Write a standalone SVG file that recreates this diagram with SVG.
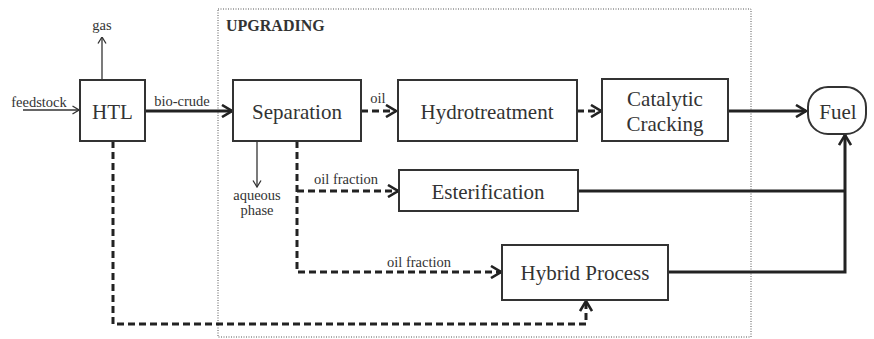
<svg xmlns="http://www.w3.org/2000/svg" width="874" height="339" viewBox="0 0 874 339" font-family="Liberation Serif, Times New Roman, serif">
<defs>
<style>
text{fill:#333;font-family:'Liberation Serif','Times New Roman',serif}
.box{fill:#fff;stroke:#333;stroke-width:2}
.nodeText{text-anchor:middle;font-size:21px}
.edgeText{text-anchor:middle;font-size:14.5px}
.thick{fill:none;stroke:#222;stroke-width:3}
.dash{fill:none;stroke:#222;stroke-width:3;stroke-dasharray:7 4}
.thin{fill:none;stroke:#333;stroke-width:1.3}
</style>
<marker id="ah" markerUnits="userSpaceOnUse" viewBox="0 0 12 14" markerWidth="12" markerHeight="14" refX="11" refY="7" orient="auto">
<path d="M1,1 L11,7 L1,13" fill="none" stroke="#222" stroke-width="2.6"/>
</marker>
<marker id="ahs" markerUnits="userSpaceOnUse" viewBox="0 0 8 10" markerWidth="8" markerHeight="10" refX="7.5" refY="5" orient="auto">
<path d="M1,1 L7.5,5 L1,9" fill="none" stroke="#333" stroke-width="1.3"/>
</marker>
</defs>
<rect width="874" height="339" fill="#fff"/>
<g id="upgrading">
<rect x="218" y="9" width="533" height="328" fill="none" stroke="#555" stroke-width="1" stroke-dasharray="1 1.5"/>
<text x="226" y="31" font-size="16" font-weight="bold">UPGRADING</text>
</g>
<g id="connectors">
<path class="thin" d="M102,80 V37" marker-end="url(#ahs)"/>
<path class="thin" d="M23,110 H79" marker-end="url(#ahs)"/>
<path class="thin" d="M257,141 V187" marker-end="url(#ahs)"/>
<path class="thick" d="M145,111 H232" marker-end="url(#ah)"/>
<path class="dash" d="M361,111 H396" marker-end="url(#ah)"/>
<path class="dash" d="M577,111 H601" marker-end="url(#ah)"/>
<path class="thick" d="M728,111 H806" marker-end="url(#ah)"/>
<path class="thick" d="M578,191 H845"/>
<path class="thick" d="M668,272 H845 V135" marker-end="url(#ah)"/>
<path class="dash" d="M297,141 V272 H501" marker-end="url(#ah)"/>
<path class="dash" d="M297,191 H398" marker-end="url(#ah)"/>
<path class="dash" d="M113,141 V324 H586 V301" marker-end="url(#ah)"/>
</g>
<g id="labels">
<text class="edgeText" x="102" y="30">gas</text>
<text class="edgeText" x="39" y="107">feedstock</text>
<text class="edgeText" x="182" y="106">bio-crude</text>
<text class="edgeText" x="378" y="103">oil</text>
<text class="edgeText" x="257" y="200" font-size="14">aqueous</text>
<text class="edgeText" x="257" y="215" font-size="14">phase</text>
<text class="edgeText" x="346" y="184">oil fraction</text>
<text class="edgeText" x="419" y="267">oil fraction</text>
</g>
<g id="htl">
<rect class="box" x="80" y="80" width="65" height="61"/>
<text class="nodeText" x="112.5" y="119">HTL</text>
</g>
<g id="separation">
<rect class="box" x="233" y="80" width="128" height="61"/>
<text class="nodeText" x="297" y="119">Separation</text>
</g>
<g id="hydrotreatment">
<rect class="box" x="398" y="80" width="179" height="61"/>
<text class="nodeText" x="487" y="119">Hydrotreatment</text>
</g>
<g id="catalytic">
<rect class="box" x="602" y="79" width="126" height="62"/>
<text class="nodeText" x="665" y="106">Catalytic</text>
<text class="nodeText" x="665" y="131">Cracking</text>
</g>
<g id="fuel">
<rect class="box" x="808" y="87" width="58" height="47" rx="20" ry="20"/>
<text class="nodeText" x="838" y="119">Fuel</text>
</g>
<g id="esterification">
<rect class="box" x="399" y="170" width="179" height="41"/>
<text class="nodeText" x="488" y="199">Esterification</text>
</g>
<g id="hybrid">
<rect class="box" x="502" y="245" width="166" height="55"/>
<text class="nodeText" x="585" y="280">Hybrid Process</text>
</g>
</svg>
